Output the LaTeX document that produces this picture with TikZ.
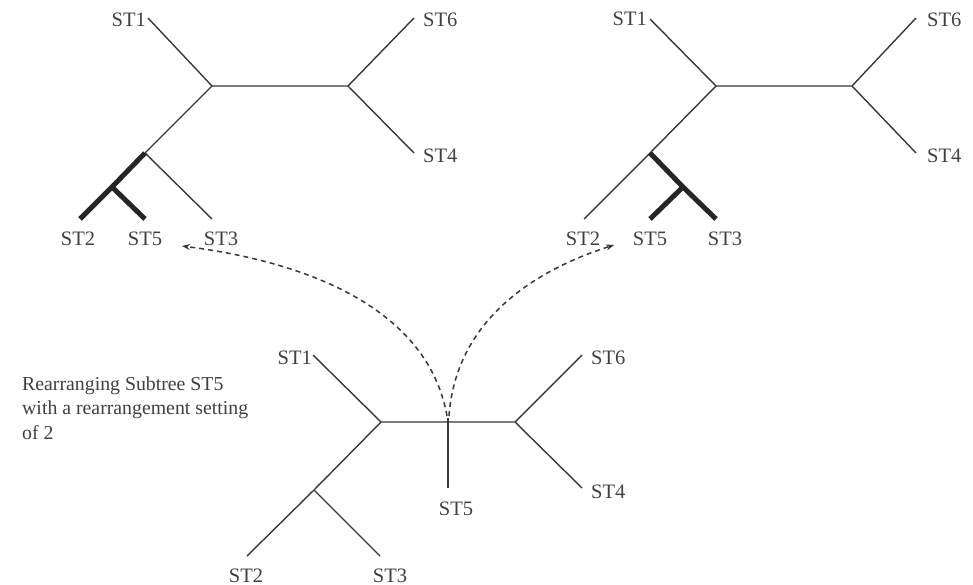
\documentclass[tikz,border=0pt]{standalone}
\usepackage{fontspec}
\setmainfont{Liberation Serif}
\usetikzlibrary{arrows.meta}
\definecolor{ink}{gray}{0.22}
\definecolor{txt}{gray}{0.25}
\tikzset{
  edge/.style={draw=ink, line width=1.4pt},
  heavy/.style={draw=black!85, line width=5pt},
  lbl/.style={text=txt, inner sep=0pt, font=\fontsize{20.5}{24.5}\selectfont},
  captxt/.style={text=txt, inner sep=0pt, font=\fontsize{19.8}{24.5}\selectfont},
  movearrow/.style={draw=ink, line width=1.5pt, dash pattern=on 5pt off 4pt, -{Stealth[length=8pt,width=6pt]}}
}
\begin{document}
\begin{tikzpicture}[x=1pt,y=-1pt]
\useasboundingbox (0,0) rectangle (973,585);

% ---------- Tree 1 (top left) ----------
\begin{scope}[shift={(212,86)}]
  \coordinate (aA) at (0,0);
  \coordinate (aB) at (136,0);
  \coordinate (a1) at (-64,-68);
  \coordinate (a6) at (202,-68);
  \coordinate (a4) at (202,67);
  \coordinate (aC) at (-67,67);
  \coordinate (aD) at (-100,101);
  \coordinate (a2) at (-132,133);
  \coordinate (a5) at (-67,133);
  \coordinate (a3) at (0,133);
\end{scope}
\draw[edge] (a1) -- (aA) -- (aB) -- (a6);
\draw[edge] (aB) -- (a4);
\draw[edge] (aA) -- (aC);
\draw[edge] (aC) -- (a3);
\draw[heavy] (aC) -- (aD) -- (a2);
\draw[heavy] (aD) -- (a5);
\node[lbl, anchor=base east] (la1) at ([xshift=-2pt,yshift=-9pt]a1) {ST1};
\node[lbl, anchor=base west] (la6) at ([xshift=9pt,yshift=-9pt]a6) {ST6};
\node[lbl, anchor=base west] (la4) at ([xshift=9pt,yshift=-10pt]a4) {ST4};
\node[lbl, anchor=base] (la2) at ([xshift=-2pt,yshift=-26pt]a2) {ST2};
\node[lbl, anchor=base] (la5) at ([yshift=-26pt]a5) {ST5};
\node[lbl, anchor=base] (la3) at ([xshift=9pt,yshift=-26pt]a3) {ST3};

% ---------- Tree 2 (top right) ----------
\begin{scope}[shift={(716,86)}]
  \coordinate (bA) at (0,0);
  \coordinate (bB) at (136,0);
  \coordinate (b1) at (-66,-67);
  \coordinate (b6) at (200,-68);
  \coordinate (b4) at (200,67);
  \coordinate (bC) at (-66,67);
  \coordinate (bE) at (-33,101);
  \coordinate (b2) at (-132,133);
  \coordinate (b5) at (-66,133);
  \coordinate (b3) at (0,133);
\end{scope}
\draw[edge] (b1) -- (bA) -- (bB) -- (b6);
\draw[edge] (bB) -- (b4);
\draw[edge] (bA) -- (bC) -- (b2);
\draw[heavy] (bC) -- (bE) -- (b3);
\draw[heavy] (bE) -- (b5);
\node[lbl, anchor=base east] (lb1) at ([xshift=-3pt,yshift=-7pt]b1) {ST1};
\node[lbl, anchor=base west] (lb6) at ([xshift=11pt,yshift=-9pt]b6) {ST6};
\node[lbl, anchor=base west] (lb4) at ([xshift=11pt,yshift=-10pt]b4) {ST4};
\node[lbl, anchor=base] (lb2) at ([xshift=-1pt,yshift=-26pt]b2) {ST2};
\node[lbl, anchor=base] (lb5) at ([yshift=-26pt]b5) {ST5};
\node[lbl, anchor=base] (lb3) at ([xshift=9pt,yshift=-26pt]b3) {ST3};

% ---------- Tree 3 (bottom) ----------
\begin{scope}[shift={(381,422)}]
  \coordinate (cA) at (0,0);
  \coordinate (cB) at (134,0);
  \coordinate (cM) at (67,0);
  \coordinate (c5) at (67,66);
  \coordinate (c1) at (-68,-67);
  \coordinate (c6) at (201,-67);
  \coordinate (c4) at (201,66);
  \coordinate (cC) at (-67,68);
  \coordinate (c2) at (-134,134);
  \coordinate (c3) at (-1,134);
  \coordinate (cS) at (66,-6);
\end{scope}
\draw[edge] (c1) -- (cA) -- (cB) -- (c6);
\draw[edge] (cB) -- (c4);
\draw[edge] (cA) -- (cC) -- (c2);
\draw[edge] (cC) -- (c3);
\draw[edge] ([yshift=4pt]cM) -- (c5);
\node[lbl, anchor=base east] (lc1) at ([xshift=-1pt,yshift=-9pt]c1) {ST1};
\node[lbl, anchor=base west] (lc6) at ([xshift=9pt,yshift=-9pt]c6) {ST6};
\node[lbl, anchor=base west] (lc4) at ([xshift=9pt,yshift=-10pt]c4) {ST4};
\node[lbl, anchor=base] (lc5) at ([xshift=8pt,yshift=-27pt]c5) {ST5};
\node[lbl, anchor=base] (lc2) at ([xshift=-1pt,yshift=-26pt]c2) {ST2};
\node[lbl, anchor=base] (lc3) at ([xshift=10pt,yshift=-26pt]c3) {ST3};

% ---------- Moves ----------
\coordinate (tipL) at (182,246);
\coordinate (tipR) at (614,245);
\draw[movearrow] (cS) .. controls (430,320) and (330,265) .. (tipL);
\draw[movearrow] ([xshift=2pt]cS) .. controls (455,330) and (520,275) .. (tipR);

% ---------- Caption ----------
\node[captxt, anchor=base west, align=left] (cap) at (22,439)
  {Rearranging Subtree ST5\\with a rearrangement setting\\of 2};
\end{tikzpicture}
\end{document}
